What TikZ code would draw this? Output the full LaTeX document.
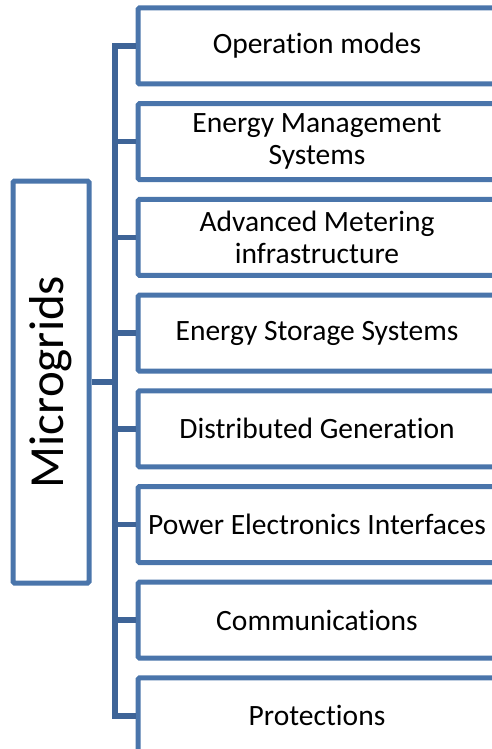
\documentclass[tikz,border=0pt]{standalone}
\usepackage{fontspec}
\setmainfont{Carlito}[Ligatures=NoCommon]
\usepackage{tikz}
\usetikzlibrary{positioning}
\definecolor{boxblue}{RGB}{74,117,171}
\definecolor{linkblue}{RGB}{62,100,151}

\begin{document}
\begin{tikzpicture}[
    x=1pt, y=1pt,
    topic/.style={rectangle, draw=boxblue, line width=5pt, rounded corners=1.5pt, fill=white, minimum width=358pt, minimum height=76pt, align=center, inner sep=0pt, font=\fontsize{29.5}{32}\selectfont},
    rootbox/.style={rectangle, draw=boxblue, line width=5pt, rounded corners=1.5pt, fill=white, minimum width=402pt, minimum height=76pt, inner sep=0pt, rotate=90, font=\fontsize{49}{52}\selectfont},
    link/.style={draw=linkblue, line width=5.5pt},
]
    \clip (0, 0) rectangle (492, -749);

    % Root
    \node[rootbox] (root) at (51, -382) {Microgrids};

    % Topics
    \node[topic] (modes) at (317, -46) {Operation modes};
    \node[topic] (ems) at (317, -141.7) {Energy Management\\Systems};
    \node[topic] (ami) at (317, -237.4) {Advanced Metering\\infrastructure};
    \node[topic] (ess) at (317, -333.1) {Energy Storage Systems};
    \node[topic] (dg) at (317, -428.8) {Distributed Generation};
    \node[topic] (pei) at (317, -524.5) {Power Electronics Interfaces};
    \node[topic] (comm) at (317, -620.2) {Communications};
    \node[topic] (prot) at (317, -715.9) {Protections};

    % Spine
    \coordinate (spine) at (115, 0);
    \draw[link] (modes.west) -| (spine |- prot.west) -- (prot.west);
    \foreach \t in {ems, ami, ess, dg, pei, comm}
        \draw[link] (\t.west) -- (spine |- \t.west);
    \draw[link] (root.south) -- (spine |- root.south);
\end{tikzpicture}
\end{document}
